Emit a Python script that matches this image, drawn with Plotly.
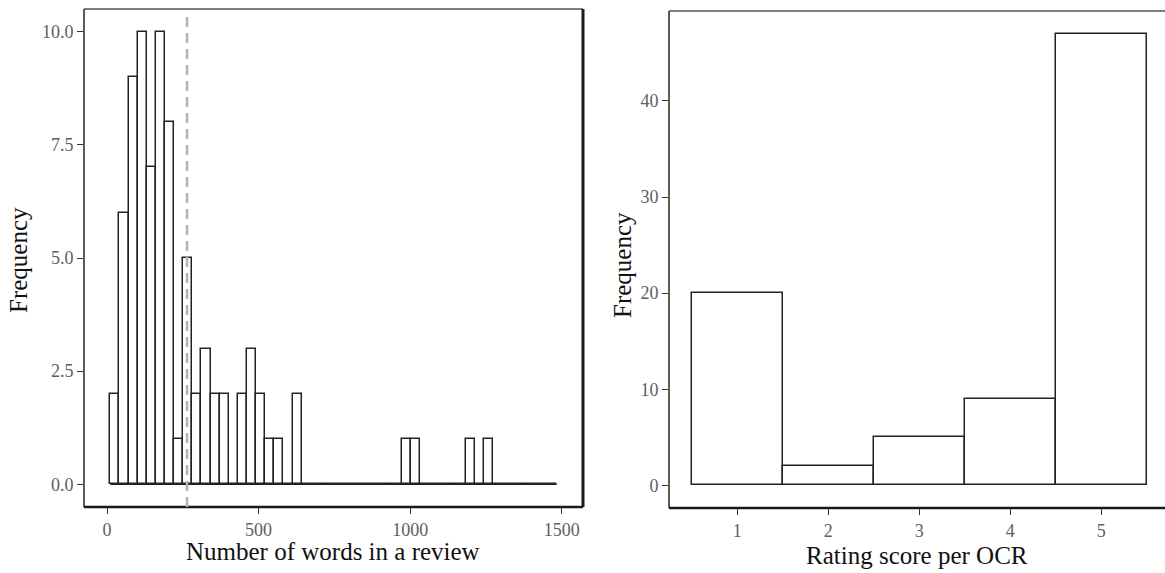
import plotly.graph_objects as go

# ---------------- data ----------------
word_bin_start = 11.0
word_bin_width = 30.05
word_counts = [2, 6, 9, 10, 7, 10, 8, 1, 5, 2, 3, 2, 2, 0, 2, 3, 2, 1, 1, 0, 2,
               0, 0, 0, 0, 0, 0, 0, 0, 0, 0, 0,
               1, 1,
               0, 0, 0, 0, 0,
               1, 0, 1,
               0, 0, 0, 0, 0, 0, 0]
mean_words = 264

rating_scores = [1, 2, 3, 4, 5]
rating_counts = [20, 2, 5, 9, 47]

left_xticks = [0, 500, 1000, 1500]
left_yticks = [0, 2.5, 5, 7.5, 10]
left_yticklabels = ["0.0", "2.5", "5.0", "7.5", "10.0"]
right_yticks = [0, 10, 20, 30, 40]

# ---------------- layout constants ----------------
W, H = 1165, 573
FONT = "Liberation Serif, Times New Roman, serif"
TICK_COLOR = "#5e5e5e"

def px_x(p):
    return p / W

def px_y(p):
    return 1 - p / H

word_centers = [word_bin_start + (i + 0.5) * word_bin_width for i in range(len(word_counts))]
word_edges_end = word_bin_start + len(word_counts) * word_bin_width

fig = go.Figure()

# left histogram baseline (zero-height bins)
fig.add_trace(go.Scatter(
    x=[word_bin_start, word_edges_end], y=[0, 0], mode="lines",
    line=dict(color="#222222", width=1.5), xaxis="x", yaxis="y",
    showlegend=False, hoverinfo="skip"))

fig.add_trace(go.Bar(
    x=word_centers, y=word_counts, width=word_bin_width,
    marker=dict(color="white", line=dict(color="#222222", width=1.5)),
    xaxis="x", yaxis="y", showlegend=False))

fig.add_trace(go.Bar(
    x=rating_scores, y=rating_counts, width=1.0,
    marker=dict(color="white", line=dict(color="#222222", width=1.5)),
    xaxis="x2", yaxis="y2", showlegend=False))

axis_common = dict(
    showgrid=False, zeroline=False, showline=False,
    ticks="outside", ticklen=6, tickwidth=1.3, tickcolor="#333333",
    tickfont=dict(family=FONT, size=18, color=TICK_COLOR),
)

fig.update_layout(
    width=W, height=H,
    margin=dict(l=0, r=0, t=0, b=0),
    paper_bgcolor="white", plot_bgcolor="white",
    bargap=0,
    xaxis=dict(domain=[px_x(84), px_x(583)], range=[-76, 1570],
               tickvals=left_xticks, anchor="y", **axis_common),
    yaxis=dict(domain=[px_y(507), px_y(9)], range=[-0.5, 10.5],
               tickvals=left_yticks, ticktext=left_yticklabels, anchor="x",
               **axis_common),
    xaxis2=dict(domain=[px_x(669), 1.0], range=[0.25, 5.70],
                tickvals=rating_scores, anchor="y2", **axis_common),
    yaxis2=dict(domain=[px_y(508), px_y(11)], range=[-2.35, 49.35],
                tickvals=right_yticks, anchor="x2", **axis_common),
)

shapes = []
# left panel frame
shapes += [
    dict(type="line", xref="x domain", yref="y domain", x0=0, x1=1, y0=1, y1=1,
         line=dict(color="#555555", width=1.4)),
    dict(type="line", xref="x domain", yref="y domain", x0=0, x1=0, y0=0, y1=1,
         line=dict(color="#333333", width=1.6)),
    dict(type="line", xref="x domain", yref="y domain", x0=1, x1=1, y0=0, y1=1,
         line=dict(color="#1a1a1a", width=3)),
    dict(type="line", xref="x domain", yref="y domain", x0=0, x1=1, y0=0, y1=0,
         line=dict(color="#1a1a1a", width=2.6)),
]
# right panel frame
shapes += [
    dict(type="line", xref="x2 domain", yref="y2 domain", x0=0, x1=1, y0=1, y1=1,
         line=dict(color="#555555", width=1.4)),
    dict(type="line", xref="x2 domain", yref="y2 domain", x0=0, x1=0, y0=0, y1=1,
         line=dict(color="#333333", width=1.6)),
    dict(type="line", xref="x2 domain", yref="y2 domain", x0=0, x1=1, y0=0, y1=0,
         line=dict(color="#1a1a1a", width=2.6)),
]
# mean line
shapes.append(dict(type="line", xref="x", yref="y domain", x0=mean_words, x1=mean_words,
                   y0=0, y1=0.99, line=dict(color="#b3b3b3", width=2.5, dash="10px,6px"),
                   layer="above"))
fig.update_layout(shapes=shapes)

title_font = dict(family=FONT, size=25, color="#111111")
fig.add_annotation(text="Number of words in a review", x=px_x(333), y=px_y(551),
                   xref="paper", yref="paper", showarrow=False, font=title_font,
                   xanchor="center", yanchor="middle")
fig.add_annotation(text="Rating score per OCR", x=px_x(917), y=px_y(555),
                   xref="paper", yref="paper", showarrow=False, font=title_font,
                   xanchor="center", yanchor="middle")
fig.add_annotation(text="Frequency", x=px_x(18), y=px_y(260), textangle=-90,
                   xref="paper", yref="paper", showarrow=False, font=title_font,
                   xanchor="center", yanchor="middle")
fig.add_annotation(text="Frequency", x=px_x(622), y=px_y(265), textangle=-90,
                   xref="paper", yref="paper", showarrow=False, font=title_font,
                   xanchor="center", yanchor="middle")

fig.write_html("out.html")
